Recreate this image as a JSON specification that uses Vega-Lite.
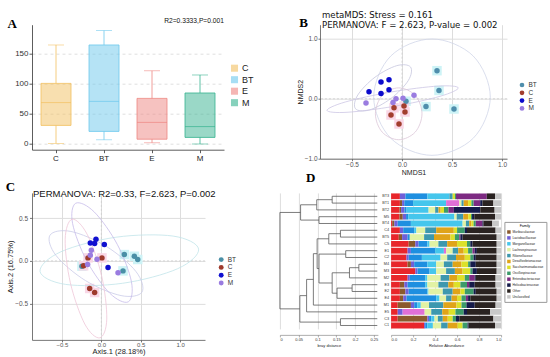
{
 "$schema": "https://vega.github.io/schema/vega-lite/v6.json",
 "autosize": {"type": "pad"},
 "padding": {"left": 5, "top": 10.7, "right": 2, "bottom": 2},
 "spacing": -4.8,
 "resolve": {"scale": {"color": "independent", "fill": "independent", "stroke": "independent"}, "legend": {"color": "independent", "fill": "independent", "stroke": "independent"}},
 "datasets": {
  "fam": [
   {"family": "Bacteroidaceae", "k": 0}, {"family": "Muribaculaceae", "k": 1}, {"family": "Lactobacillaceae", "k": 2},
   {"family": "Prevotellaceae", "k": 3}, {"family": "Morganellaceae", "k": 4}, {"family": "Streptococcaceae", "k": 5},
   {"family": "Lachnospiraceae", "k": 6}, {"family": "Rikenellaceae", "k": 7}, {"family": "Desulfovibrionaceae", "k": 8},
   {"family": "Saccharimonadaceae", "k": 9}, {"family": "Oscillospiraceae", "k": 10}, {"family": "Enterobacteriaceae", "k": 11},
   {"family": "Helicobacteraceae", "k": 12}, {"family": "Other", "k": 13}, {"family": "Unclassified", "k": 14}
  ],
  "bpts": [
   {"g": "BT", "x": 0.35, "y": 0.47}, {"g": "BT", "x": 0.37, "y": 0.14}, {"g": "BT", "x": 0.24, "y": -0.13}, {"g": "BT", "x": 0.52, "y": -0.17}, {"g": "BT", "x": 0.04, "y": -0.04},
   {"g": "E", "x": -0.13, "y": 0.32}, {"g": "E", "x": -0.21, "y": 0.28}, {"g": "E", "x": -0.13, "y": 0.15}, {"g": "E", "x": -0.21, "y": 0.09}, {"g": "E", "x": -0.33, "y": 0.12},
   {"g": "M", "x": -0.36, "y": -0.07}, {"g": "M", "x": -0.09, "y": -0.06}, {"g": "M", "x": -0.06, "y": 0.0}, {"g": "M", "x": 0.01, "y": 0.01}, {"g": "M", "x": 0.12, "y": 0.06},
   {"g": "C", "x": -0.08, "y": -0.15}, {"g": "C", "x": 0.02, "y": -0.12}, {"g": "C", "x": -0.11, "y": -0.27}, {"g": "C", "x": 0.03, "y": -0.22}, {"g": "C", "x": -0.03, "y": -0.42}
  ],
  "cpts": [
   {"g": "BT", "x": 0.292, "y": 0.074}, {"g": "BT", "x": 0.419, "y": 0.054}, {"g": "BT", "x": 0.462, "y": 0.016}, {"g": "BT", "x": 0.275, "y": -0.117}, {"g": "BT", "x": -0.246, "y": -0.062},
   {"g": "C", "x": -0.169, "y": 0.035}, {"g": "C", "x": 0.008, "y": 0.035}, {"g": "C", "x": -0.148, "y": -0.323}, {"g": "C", "x": -0.085, "y": -0.37}, {"g": "C", "x": -0.225, "y": -0.058},
   {"g": "E", "x": -0.068, "y": 0.253}, {"g": "E", "x": -0.14, "y": 0.21}, {"g": "E", "x": -0.085, "y": 0.202}, {"g": "E", "x": 0.038, "y": 0.191}, {"g": "E", "x": 0.085, "y": -0.078},
   {"g": "M", "x": -0.127, "y": 0.125}, {"g": "M", "x": -0.14, "y": 0.066}, {"g": "M", "x": -0.055, "y": 0.019}, {"g": "M", "x": -0.174, "y": -0.043}, {"g": "M", "x": 0.212, "y": -0.14}
  ]
 },
 "config": {
  "view": {"stroke": null},
  "font": "Liberation Sans",
  "axis": {"labelFont": "Liberation Sans", "titleFont": "Liberation Sans", "titleFontWeight": "normal", "labelColor": "#444", "titleColor": "#222", "domainColor": "#555", "tickColor": "#555", "domainWidth": 0.8, "tickWidth": 0.8},
  "legend": {"labelFont": "Liberation Sans", "titleFont": "Liberation Sans", "labelColor": "#333"},
  "title": {"font": "Liberation Sans", "fontWeight": "normal", "color": "#111", "subtitleFont": "Liberation Sans", "subtitleColor": "#111"}
 },
 "vconcat": [
  {
   "spacing": 42,
   "resolve": {"scale": {"color": "independent", "fill": "independent", "stroke": "independent"}, "legend": {"color": "independent", "fill": "independent", "stroke": "independent"}},
   "hconcat": [
    {
     "width": 192, "height": 125,
     "data": {"values": [
      {"g": "C", "lo": 1, "q1": 31, "med": 69, "q3": 101, "hi": 165},
      {"g": "BT", "lo": 7, "q1": 21, "med": 71, "q3": 165, "hi": 189},
      {"g": "E", "lo": 2, "q1": 8, "med": 36, "q3": 76, "hi": 122},
      {"g": "M", "lo": 0, "q1": 11, "med": 29, "q3": 85, "hi": 115}
     ]},
     "title": {"text": "R2=0.3333,P=0.001", "anchor": "end", "frame": "group", "fontSize": 6.7, "offset": -7.3},
     "encoding": {
      "x": {"field": "g", "type": "nominal", "sort": ["C", "BT", "E", "M"], "title": null,
            "scale": {"paddingInner": 0.375, "paddingOuter": 0.1875},
            "axis": {"labelAngle": 0, "labelFontSize": 8, "labelPadding": 1.5, "tickSize": 3, "domainColor": "#333", "tickColor": "#333", "labelColor": "#222"}},
      "color": {"field": "g", "type": "nominal", "scale": {"domain": ["C", "BT", "E", "M"], "range": ["#F2C060", "#6CC8EC", "#EE8682", "#36B28F"]},
                "legend": {"orient": "none", "legendX": 198, "legendY": 39, "title": null, "symbolType": "square", "symbolSize": 50, "symbolOpacity": 0.6,
                           "labelFontSize": 9, "rowPadding": 1.5, "labelOffset": 3, "padding": 0, "symbolStrokeWidth": 0, "labelColor": "#222"}}
     },
     "layer": [
      {"mark": {"type": "bar", "fillOpacity": 0.5},
       "encoding": {
        "y": {"field": "q1", "type": "quantitative", "title": "A",
              "scale": {"domain": [-9.5, 198.8], "nice": false, "zero": false},
              "axis": {"values": [0, 50, 100, 150], "grid": true, "gridDash": [3, 3], "gridColor": "#d2d2d2", "gridWidth": 0.7,
                       "labelFontSize": 8, "labelPadding": 1, "tickSize": 3, "domainColor": "#333", "tickColor": "#333", "labelColor": "#333",
                       "titleFont": "Liberation Serif", "titleFontSize": 13, "titleFontWeight": "bold", "titleAngle": 0, "titleAlign": "left",
                       "titleBaseline": "alphabetic", "titleX": -25, "titleY": 3, "titleColor": "#000"}},
        "y2": {"field": "q3"}
       }},
      {"mark": {"type": "rule", "strokeWidth": 0.8},
       "encoding": {"y": {"field": "lo", "type": "quantitative", "title": "A"}, "y2": {"field": "q1"}}},
      {"mark": {"type": "rule", "strokeWidth": 0.8},
       "encoding": {"y": {"field": "q3", "type": "quantitative", "title": "A"}, "y2": {"field": "hi"}}},
      {"mark": {"type": "tick", "size": 16, "thickness": 0.8},
       "encoding": {"y": {"field": "hi", "type": "quantitative", "title": "A"}}},
      {"mark": {"type": "tick", "size": 16, "thickness": 0.8},
       "encoding": {"y": {"field": "lo", "type": "quantitative", "title": "A"}}},
      {"mark": {"type": "bar", "filled": false, "strokeWidth": 0.8},
       "encoding": {"y": {"field": "q1", "type": "quantitative", "title": "A"}, "y2": {"field": "q3"}}},
      {"mark": {"type": "tick", "size": 30, "thickness": 1},
       "encoding": {"y": {"field": "med", "type": "quantitative", "title": "A"}}}
     ]
    },
    {
     "title": {"text": "B", "anchor": "start", "frame": "bounds", "font": "Liberation Serif", "fontSize": 13, "fontWeight": "bold", "color": "#000", "offset": 0, "dy": 19, "dx": 3},
     "hconcat": [
      {
       "width": 187, "height": 134,
       "title": {"text": "metaMDS: Stress = 0.161", "subtitle": "PERMANOVA: F = 2.623, P-value = 0.002", "anchor": "start", "frame": "group",
                 "font": "DejaVu Sans", "subtitleFont": "DejaVu Sans", "fontSize": 8.6, "subtitleFontSize": 8.6, "subtitlePadding": 1.4, "offset": -5.3, "dx": 2},
       "layer": [
        {"data": {"values": [{"v": 0}]},
         "mark": {"type": "rule", "strokeDash": [2, 2], "color": "#c9c9c9", "strokeWidth": 0.7},
         "encoding": {"x": {"field": "v", "type": "quantitative", "title": "NMDS1",
                            "scale": {"domain": [-0.82, 1.05], "nice": false, "zero": false},
                            "axis": {"values": [-0.5, 0, 0.5, 1], "format": ".1f", "labelFontSize": 6.5, "titleFontSize": 7, "tickSize": 2, "labelPadding": 0.5, "titlePadding": 0.5, "labelColor": "#555"}}}},
        {"data": {"values": [{"v": 0}]},
         "mark": {"type": "rule", "strokeDash": [2, 2], "color": "#c9c9c9", "strokeWidth": 0.7},
         "encoding": {"y": {"field": "v", "type": "quantitative", "title": "NMDS2",
                            "scale": {"domain": [-1.0, 1.238], "nice": false, "zero": false},
                            "axis": {"values": [-1, -0.5, 0, 0.5, 1], "format": ".1f", "labelFontSize": 6.5, "titleFontSize": 7, "tickSize": 2, "labelPadding": 1, "titlePadding": 1, "labelColor": "#555"}}}},
        {"data": {"name": "bpts"},
         "transform": [{"filter": {"field": "g", "oneOf": ["BT", "C"]}}],
         "mark": {"type": "point", "shape": "square", "filled": true, "size": 90, "opacity": 1},
         "encoding": {"x": {"field": "x", "type": "quantitative", "title": "NMDS1"}, "y": {"field": "y", "type": "quantitative", "title": "NMDS2"},
                      "fill": {"field": "g", "type": "nominal", "scale": {"domain": ["BT", "C"], "range": ["#CDF3F6", "#F9D7E6"]}, "legend": null}}},
        {"data": {"values": [
          {"g": "BT", "t": 0, "x": 0.883, "y": 0.028}, {"g": "BT", "t": 1, "x": 0.712, "y": 0.715}, {"g": "BT", "t": 2, "x": 0.3, "y": 1.0}, {"g": "BT", "t": 3, "x": -0.112, "y": 0.715},
          {"g": "BT", "t": 4, "x": -0.283, "y": 0.028}, {"g": "BT", "t": 5, "x": -0.112, "y": -0.659}, {"g": "BT", "t": 6, "x": 0.3, "y": -0.944}, {"g": "BT", "t": 7, "x": 0.712, "y": -0.659},
          {"g": "E", "t": 0, "x": 0.086, "y": 0.53}, {"g": "E", "t": 1, "x": 0.062, "y": 0.303}, {"g": "E", "t": 2, "x": -0.11, "y": 0.006}, {"g": "E", "t": 3, "x": -0.328, "y": -0.187},
          {"g": "E", "t": 4, "x": -0.466, "y": -0.163}, {"g": "E", "t": 5, "x": -0.442, "y": 0.064}, {"g": "E", "t": 6, "x": -0.27, "y": 0.361}, {"g": "E", "t": 7, "x": -0.052, "y": 0.554},
          {"g": "M", "t": 0, "x": 0.563, "y": 0.183}, {"g": "M", "t": 1, "x": 0.38, "y": 0.042}, {"g": "M", "t": 2, "x": -0.081, "y": -0.126}, {"g": "M", "t": 3, "x": -0.549, "y": -0.225},
          {"g": "M", "t": 4, "x": -0.75, "y": -0.194}, {"g": "M", "t": 5, "x": -0.567, "y": -0.053}, {"g": "M", "t": 6, "x": -0.106, "y": 0.115}, {"g": "M", "t": 7, "x": 0.362, "y": 0.213},
          {"g": "C", "t": 0, "x": 0.2, "y": -0.25}, {"g": "C", "t": 1, "x": 0.132, "y": 0.056}, {"g": "C", "t": 2, "x": -0.033, "y": 0.183}, {"g": "C", "t": 3, "x": -0.198, "y": 0.056},
          {"g": "C", "t": 4, "x": -0.266, "y": -0.25}, {"g": "C", "t": 5, "x": -0.198, "y": -0.556}, {"g": "C", "t": 6, "x": -0.033, "y": -0.683}, {"g": "C", "t": 7, "x": 0.132, "y": -0.556}
         ]},
         "mark": {"type": "line", "interpolate": "cardinal-closed", "strokeWidth": 0.8},
         "encoding": {"x": {"field": "x", "type": "quantitative", "title": "NMDS1"}, "y": {"field": "y", "type": "quantitative", "title": "NMDS2"},
                      "stroke": {"field": "g", "type": "nominal", "scale": {"domain": ["M", "E", "C", "BT"], "range": ["#cdc6e4", "#c6c7de", "#dcc6d8", "#d0d6e8"]}, "legend": null},
                      "order": {"field": "t", "type": "quantitative"}}},
        {"data": {"name": "bpts"},
         "mark": {"type": "circle", "size": 30, "opacity": 1},
         "encoding": {"x": {"field": "x", "type": "quantitative", "title": "NMDS1"}, "y": {"field": "y", "type": "quantitative", "title": "NMDS2"},
                      "color": {"field": "g", "type": "nominal", "scale": {"domain": ["BT", "C", "E", "M"], "range": ["#4F8EAC", "#A23E2E", "#0B0BCC", "#9A7CE0"]},
                                "legend": {"orient": "none", "legendX": 198.5, "legendY": 56.8, "title": null, "symbolType": "circle", "symbolSize": 22, "symbolOpacity": 1,
                                           "labelFontSize": 6.5, "rowPadding": 0.8, "labelOffset": 3, "padding": 0, "labelColor": "#333"}}}}
       ]
      }
     ]
    }
   ]
  },
  {
   "spacing": 41.9,
   "resolve": {"scale": {"color": "independent", "fill": "independent", "stroke": "independent"}, "legend": {"color": "independent", "fill": "independent", "stroke": "independent"}},
   "hconcat": [
    {
     "title": {"text": "C", "anchor": "start", "frame": "bounds", "font": "Liberation Serif", "fontSize": 13, "fontWeight": "bold", "color": "#000", "offset": 0, "dy": 5.7, "dx": -1},
     "hconcat": [
      {
       "width": 173, "height": 147,
       "title": {"text": "PERMANOVA: R2=0.33, F=2.623, P=0.002", "anchor": "start", "frame": "group", "fontSize": 9.5, "offset": -5.5, "dx": 1},
       "layer": [
        {"data": {"values": [{"v": 0}]},
         "mark": {"type": "rule", "strokeDash": [2, 2], "color": "#cccccc", "strokeWidth": 0.7},
         "encoding": {"x": {"field": "v", "type": "quantitative", "title": "Axis.1 (28.18%)",
                            "scale": {"domain": [-0.88, 1.316], "nice": false, "zero": false},
                            "axis": {"values": [-0.5, 0, 0.5, 1], "format": ".1f", "labelFontSize": 6, "titleFontSize": 7.5, "tickSize": 2, "labelPadding": 0, "titlePadding": 0, "labelColor": "#555"}}}},
        {"data": {"values": [{"v": 0}]},
         "mark": {"type": "rule", "strokeDash": [2, 2], "color": "#cccccc", "strokeWidth": 0.7},
         "encoding": {"y": {"field": "v", "type": "quantitative", "title": "Axis.2 (16.75%)",
                            "scale": {"domain": [-0.924, 0.795], "nice": false, "zero": false},
                            "axis": {"values": [-0.5, 0, 0.5], "format": ".1f", "labelFontSize": 6.5, "titleFontSize": 7.5, "tickSize": 2.5, "labelPadding": 2, "titlePadding": 0, "labelColor": "#555"}}}},
        {"data": {"name": "cpts"},
         "transform": [{"filter": {"field": "g", "oneOf": ["BT", "C"]}}],
         "mark": {"type": "point", "shape": "square", "filled": true, "size": 90, "opacity": 1},
         "encoding": {"x": {"field": "x", "type": "quantitative", "title": "Axis.1 (28.18%)"}, "y": {"field": "y", "type": "quantitative", "title": "Axis.2 (16.75%)"},
                      "fill": {"field": "g", "type": "nominal", "scale": {"domain": ["BT", "C"], "range": ["#CDF3F6", "#F9D7E6"]}, "legend": null}}},
        {"data": {"values": [
          {"g": "BT", "t": 0, "x": 1.235, "y": 0.138}, {"g": "BT", "t": 1, "x": 0.97, "y": -0.091}, {"g": "BT", "t": 2, "x": 0.27, "y": -0.262}, {"g": "BT", "t": 3, "x": -0.454, "y": -0.275},
          {"g": "BT", "t": 4, "x": -0.778, "y": -0.123}, {"g": "BT", "t": 5, "x": -0.512, "y": 0.107}, {"g": "BT", "t": 6, "x": 0.188, "y": 0.277}, {"g": "BT", "t": 7, "x": 0.911, "y": 0.29},
          {"g": "E", "t": 0, "x": 0.516, "y": -0.365}, {"g": "E", "t": 1, "x": 0.25, "y": -0.406}, {"g": "E", "t": 2, "x": -0.202, "y": -0.23}, {"g": "E", "t": 3, "x": -0.575, "y": 0.063},
          {"g": "E", "t": 4, "x": -0.652, "y": 0.3}, {"g": "E", "t": 5, "x": -0.386, "y": 0.344}, {"g": "E", "t": 6, "x": 0.066, "y": 0.168}, {"g": "E", "t": 7, "x": 0.44, "y": -0.125},
          {"g": "M", "t": 0, "x": 0.342, "y": -0.479}, {"g": "M", "t": 1, "x": 0.107, "y": -0.378}, {"g": "M", "t": 2, "x": -0.186, "y": 0.002}, {"g": "M", "t": 3, "x": -0.365, "y": 0.438},
          {"g": "M", "t": 4, "x": -0.325, "y": 0.674}, {"g": "M", "t": 5, "x": -0.09, "y": 0.572}, {"g": "M", "t": 6, "x": 0.203, "y": 0.192}, {"g": "M", "t": 7, "x": 0.382, "y": -0.244},
          {"g": "C", "t": 0, "x": -0.019, "y": -0.9}, {"g": "C", "t": 1, "x": -0.21, "y": -0.739}, {"g": "C", "t": 2, "x": -0.393, "y": -0.256}, {"g": "C", "t": 3, "x": -0.459, "y": 0.252},
          {"g": "C", "t": 4, "x": -0.371, "y": 0.487}, {"g": "C", "t": 5, "x": -0.18, "y": 0.311}, {"g": "C", "t": 6, "x": 0.003, "y": -0.172}, {"g": "C", "t": 7, "x": 0.069, "y": -0.68}
         ]},
         "mark": {"type": "line", "interpolate": "cardinal-closed", "strokeWidth": 0.8},
         "encoding": {"x": {"field": "x", "type": "quantitative", "title": "Axis.1 (28.18%)"}, "y": {"field": "y", "type": "quantitative", "title": "Axis.2 (16.75%)"},
                      "stroke": {"field": "g", "type": "nominal", "scale": {"domain": ["M", "E", "C", "BT"], "range": ["#c6bbea", "#cacce8", "#efc6d8", "#c2e4ea"]}, "legend": null},
                      "order": {"field": "t", "type": "quantitative"}}},
        {"data": {"name": "cpts"},
         "mark": {"type": "circle", "size": 30, "opacity": 1},
         "encoding": {"x": {"field": "x", "type": "quantitative", "title": "Axis.1 (28.18%)"}, "y": {"field": "y", "type": "quantitative", "title": "Axis.2 (16.75%)"},
                      "color": {"field": "g", "type": "nominal", "scale": {"domain": ["BT", "C", "E", "M"], "range": ["#4A8FA6", "#9E3A2C", "#1010D0", "#9A7BE0"]},
                                "legend": {"orient": "none", "legendX": 185.7, "legendY": 63.2, "title": null, "symbolType": "circle", "symbolSize": 24, "symbolOpacity": 1,
                                           "labelFontSize": 6.5, "rowPadding": 0.8, "labelOffset": 3, "padding": 0, "labelColor": "#333"}}}}
       ]
      }
     ]
    },
    {
     "spacing": 3.2,
     "resolve": {"scale": {"color": "independent"}, "legend": {"color": "independent"}},
     "hconcat": [
      {
       "width": 98, "height": 136,
       "title": {"text": "D", "anchor": "start", "frame": "group", "font": "Liberation Serif", "fontSize": 13, "fontWeight": "bold", "color": "#000", "offset": 8.3, "dx": 26},
       "data": {"values": [
        {"x1": 0.139, "x2": 0.139, "y1": 0, "y2": 1}, {"x1": 0.139, "x2": 0.259, "y1": 0, "y2": 0}, {"x1": 0.139, "x2": 0.259, "y1": 1, "y2": 1},
        {"x1": 0.098, "x2": 0.098, "y1": 0.5, "y2": 2}, {"x1": 0.098, "x2": 0.139, "y1": 0.5, "y2": 0.5}, {"x1": 0.098, "x2": 0.259, "y1": 2, "y2": 2},
        {"x1": 0.104, "x2": 0.104, "y1": 3, "y2": 4}, {"x1": 0.104, "x2": 0.259, "y1": 3, "y2": 3}, {"x1": 0.104, "x2": 0.259, "y1": 4, "y2": 4},
        {"x1": 0.055, "x2": 0.055, "y1": 1.25, "y2": 3.5}, {"x1": 0.055, "x2": 0.098, "y1": 1.25, "y2": 1.25}, {"x1": 0.055, "x2": 0.104, "y1": 3.5, "y2": 3.5},
        {"x1": 0.161, "x2": 0.161, "y1": 5, "y2": 6}, {"x1": 0.161, "x2": 0.259, "y1": 5, "y2": 5}, {"x1": 0.161, "x2": 0.259, "y1": 6, "y2": 6},
        {"x1": 0.13, "x2": 0.13, "y1": 5.5, "y2": 7}, {"x1": 0.13, "x2": 0.161, "y1": 5.5, "y2": 5.5}, {"x1": 0.13, "x2": 0.259, "y1": 7, "y2": 7},
        {"x1": 0.175, "x2": 0.175, "y1": 8, "y2": 9}, {"x1": 0.175, "x2": 0.259, "y1": 8, "y2": 8}, {"x1": 0.175, "x2": 0.259, "y1": 9, "y2": 9},
        {"x1": 0.21, "x2": 0.21, "y1": 10, "y2": 11}, {"x1": 0.21, "x2": 0.259, "y1": 10, "y2": 10}, {"x1": 0.21, "x2": 0.259, "y1": 11, "y2": 11},
        {"x1": 0.185, "x2": 0.185, "y1": 10.5, "y2": 12}, {"x1": 0.185, "x2": 0.21, "y1": 10.5, "y2": 10.5}, {"x1": 0.185, "x2": 0.259, "y1": 12, "y2": 12},
        {"x1": 0.192, "x2": 0.192, "y1": 13, "y2": 14}, {"x1": 0.192, "x2": 0.259, "y1": 13, "y2": 13}, {"x1": 0.192, "x2": 0.259, "y1": 14, "y2": 14},
        {"x1": 0.152, "x2": 0.152, "y1": 13.5, "y2": 15}, {"x1": 0.152, "x2": 0.192, "y1": 13.5, "y2": 13.5}, {"x1": 0.152, "x2": 0.259, "y1": 15, "y2": 15},
        {"x1": 0.139, "x2": 0.139, "y1": 11.25, "y2": 14.25}, {"x1": 0.139, "x2": 0.185, "y1": 11.25, "y2": 11.25}, {"x1": 0.139, "x2": 0.152, "y1": 14.25, "y2": 14.25},
        {"x1": 0.104, "x2": 0.104, "y1": 8.5, "y2": 12.75}, {"x1": 0.104, "x2": 0.175, "y1": 8.5, "y2": 8.5}, {"x1": 0.104, "x2": 0.139, "y1": 12.75, "y2": 12.75},
        {"x1": 0.099, "x2": 0.099, "y1": 6.25, "y2": 10.625}, {"x1": 0.099, "x2": 0.13, "y1": 6.25, "y2": 6.25}, {"x1": 0.099, "x2": 0.104, "y1": 10.625, "y2": 10.625},
        {"x1": 0.089, "x2": 0.089, "y1": 8.4375, "y2": 16}, {"x1": 0.089, "x2": 0.099, "y1": 8.4375, "y2": 8.4375}, {"x1": 0.089, "x2": 0.259, "y1": 16, "y2": 16},
        {"x1": 0.071, "x2": 0.071, "y1": 12.22, "y2": 17}, {"x1": 0.071, "x2": 0.089, "y1": 12.22, "y2": 12.22}, {"x1": 0.071, "x2": 0.259, "y1": 17, "y2": 17},
        {"x1": 0.161, "x2": 0.161, "y1": 18, "y2": 19}, {"x1": 0.161, "x2": 0.259, "y1": 18, "y2": 18}, {"x1": 0.161, "x2": 0.259, "y1": 19, "y2": 19},
        {"x1": 0.053, "x2": 0.053, "y1": 14.61, "y2": 18.5}, {"x1": 0.053, "x2": 0.071, "y1": 14.61, "y2": 14.61}, {"x1": 0.053, "x2": 0.161, "y1": 18.5, "y2": 18.5},
        {"x1": 0, "x2": 0, "y1": 2.375, "y2": 16.555}, {"x1": 0, "x2": 0.055, "y1": 2.375, "y2": 2.375}, {"x1": 0, "x2": 0.053, "y1": 16.555, "y2": 16.555}
       ]},
       "mark": {"type": "rule", "color": "#5a5a5a", "strokeWidth": 0.8},
       "encoding": {
        "x": {"field": "x1", "type": "quantitative", "title": "bray distance",
              "scale": {"domain": [0, 0.2606], "nice": false, "zero": false},
              "axis": {"values": [0, 0.05, 0.1, 0.15, 0.2, 0.25], "format": "~g", "labelFontSize": 4, "titleFontSize": 4, "tickSize": 2, "offset": 6,
                       "labelPadding": 1, "titlePadding": 2, "domainColor": "#777", "tickColor": "#777", "labelColor": "#333", "domainWidth": 0.6, "tickWidth": 0.6}},
        "x2": {"field": "x2"},
        "y": {"field": "y1", "type": "quantitative", "scale": {"domain": [-0.5, 19.5], "reverse": true, "nice": false, "zero": false}, "axis": null},
        "y2": {"field": "y2"}
       }
      },
      {
       "width": 110, "height": 136,
       "title": {"text": " ", "anchor": "start", "frame": "group", "font": "Liberation Serif", "fontSize": 13, "fontWeight": "bold", "offset": 8.3},
       "data": {"values": [
        {"s": "BT3", "Bacteroidaceae": 0.08, "Lactobacillaceae": 0.05, "Prevotellaceae": 0.2, "Morganellaceae": 0.2, "Rikenellaceae": 0.03, "Saccharimonadaceae": 0.02, "Oscillospiraceae": 0.01, "Enterobacteriaceae": 0.28, "Other": 0.075, "Unclassified": 0.055},
        {"s": "BT1", "Bacteroidaceae": 0.08, "Muribaculaceae": 0.02, "Lactobacillaceae": 0.02, "Prevotellaceae": 0.08, "Morganellaceae": 0.3, "Streptococcaceae": 0.12, "Lachnospiraceae": 0.02, "Rikenellaceae": 0.02, "Desulfovibrionaceae": 0.04, "Saccharimonadaceae": 0.03, "Oscillospiraceae": 0.02, "Enterobacteriaceae": 0.06, "Helicobacteraceae": 0.02, "Other": 0.1, "Unclassified": 0.07},
        {"s": "BT2", "Bacteroidaceae": 0.076, "Muribaculaceae": 0.015, "Lactobacillaceae": 0.03, "Prevotellaceae": 0.02, "Morganellaceae": 0.2, "Lachnospiraceae": 0.06, "Rikenellaceae": 0.03, "Desulfovibrionaceae": 0.02, "Saccharimonadaceae": 0.03, "Oscillospiraceae": 0.04, "Enterobacteriaceae": 0.05, "Helicobacteraceae": 0.24, "Other": 0.13, "Unclassified": 0.059},
        {"s": "M5", "Bacteroidaceae": 0.076, "Muribaculaceae": 0.03, "Lactobacillaceae": 0.03, "Prevotellaceae": 0.02, "Morganellaceae": 0.42, "Lachnospiraceae": 0.02, "Rikenellaceae": 0.06, "Desulfovibrionaceae": 0.045, "Saccharimonadaceae": 0.025, "Oscillospiraceae": 0.01, "Helicobacteraceae": 0.02, "Other": 0.19, "Unclassified": 0.054},
        {"s": "BT4", "Bacteroidaceae": 0.01, "Muribaculaceae": 0.02, "Lactobacillaceae": 0.03, "Prevotellaceae": 0.12, "Morganellaceae": 0.47, "Lachnospiraceae": 0.03, "Rikenellaceae": 0.03, "Desulfovibrionaceae": 0.02, "Saccharimonadaceae": 0.02, "Oscillospiraceae": 0.02, "Enterobacteriaceae": 0.06, "Helicobacteraceae": 0.01, "Other": 0.08, "Unclassified": 0.06},
        {"s": "C4", "Bacteroidaceae": 0.08, "Lactobacillaceae": 0.03, "Prevotellaceae": 0.1, "Morganellaceae": 0.02, "Lachnospiraceae": 0.08, "Rikenellaceae": 0.1, "Desulfovibrionaceae": 0.16, "Saccharimonadaceae": 0.03, "Oscillospiraceae": 0.07, "Helicobacteraceae": 0.02, "Other": 0.26, "Unclassified": 0.05},
        {"s": "BT5", "Bacteroidaceae": 0.07, "Muribaculaceae": 0.03, "Lactobacillaceae": 0.05, "Prevotellaceae": 0.02, "Lachnospiraceae": 0.13, "Rikenellaceae": 0.09, "Desulfovibrionaceae": 0.15, "Saccharimonadaceae": 0.04, "Oscillospiraceae": 0.04, "Enterobacteriaceae": 0.01, "Helicobacteraceae": 0.02, "Other": 0.31, "Unclassified": 0.04},
        {"s": "C5", "Bacteroidaceae": 0.16, "Muribaculaceae": 0.06, "Lactobacillaceae": 0.03, "Prevotellaceae": 0.08, "Morganellaceae": 0.02, "Lachnospiraceae": 0.08, "Rikenellaceae": 0.08, "Desulfovibrionaceae": 0.09, "Saccharimonadaceae": 0.09, "Oscillospiraceae": 0.03, "Helicobacteraceae": 0.02, "Other": 0.22, "Unclassified": 0.04},
        {"s": "E1", "Bacteroidaceae": 0.15, "Lactobacillaceae": 0.03, "Prevotellaceae": 0.22, "Morganellaceae": 0.08, "Streptococcaceae": 0.02, "Lachnospiraceae": 0.06, "Rikenellaceae": 0.05, "Desulfovibrionaceae": 0.05, "Saccharimonadaceae": 0.04, "Oscillospiraceae": 0.04, "Enterobacteriaceae": 0.02, "Helicobacteraceae": 0.02, "Other": 0.18, "Unclassified": 0.04},
        {"s": "C2", "Bacteroidaceae": 0.14, "Lactobacillaceae": 0.02, "Prevotellaceae": 0.12, "Morganellaceae": 0.17, "Lachnospiraceae": 0.06, "Rikenellaceae": 0.08, "Desulfovibrionaceae": 0.08, "Saccharimonadaceae": 0.05, "Oscillospiraceae": 0.03, "Helicobacteraceae": 0.02, "Other": 0.19, "Unclassified": 0.04},
        {"s": "M4", "Bacteroidaceae": 0.15, "Muribaculaceae": 0.03, "Lactobacillaceae": 0.03, "Prevotellaceae": 0.12, "Morganellaceae": 0.08, "Lachnospiraceae": 0.07, "Rikenellaceae": 0.08, "Desulfovibrionaceae": 0.08, "Saccharimonadaceae": 0.06, "Oscillospiraceae": 0.02, "Helicobacteraceae": 0.05, "Other": 0.19, "Unclassified": 0.04},
        {"s": "M3", "Bacteroidaceae": 0.22, "Lactobacillaceae": 0.02, "Prevotellaceae": 0.11, "Morganellaceae": 0.06, "Lachnospiraceae": 0.09, "Rikenellaceae": 0.08, "Desulfovibrionaceae": 0.07, "Saccharimonadaceae": 0.07, "Oscillospiraceae": 0.02, "Helicobacteraceae": 0.04, "Other": 0.18, "Unclassified": 0.04},
        {"s": "M2", "Bacteroidaceae": 0.15, "Lactobacillaceae": 0.02, "Prevotellaceae": 0.14, "Morganellaceae": 0.02, "Lachnospiraceae": 0.12, "Rikenellaceae": 0.08, "Desulfovibrionaceae": 0.07, "Saccharimonadaceae": 0.07, "Oscillospiraceae": 0.04, "Enterobacteriaceae": 0.05, "Helicobacteraceae": 0.01, "Other": 0.18, "Unclassified": 0.05},
        {"s": "E3", "Bacteroidaceae": 0.08, "Muribaculaceae": 0.04, "Lactobacillaceae": 0.03, "Prevotellaceae": 0.16, "Morganellaceae": 0.02, "Lachnospiraceae": 0.1, "Rikenellaceae": 0.09, "Desulfovibrionaceae": 0.05, "Saccharimonadaceae": 0.06, "Oscillospiraceae": 0.06, "Enterobacteriaceae": 0.02, "Helicobacteraceae": 0.05, "Other": 0.19, "Unclassified": 0.05},
        {"s": "E2", "Bacteroidaceae": 0.08, "Muribaculaceae": 0.05, "Lactobacillaceae": 0.03, "Prevotellaceae": 0.17, "Morganellaceae": 0.01, "Lachnospiraceae": 0.13, "Rikenellaceae": 0.09, "Desulfovibrionaceae": 0.07, "Saccharimonadaceae": 0.04, "Oscillospiraceae": 0.08, "Helicobacteraceae": 0.02, "Other": 0.19, "Unclassified": 0.04},
        {"s": "E4", "Bacteroidaceae": 0.08, "Muribaculaceae": 0.03, "Lactobacillaceae": 0.03, "Prevotellaceae": 0.27, "Morganellaceae": 0.03, "Lachnospiraceae": 0.06, "Rikenellaceae": 0.05, "Desulfovibrionaceae": 0.05, "Saccharimonadaceae": 0.04, "Oscillospiraceae": 0.04, "Enterobacteriaceae": 0.02, "Helicobacteraceae": 0.02, "Other": 0.24, "Unclassified": 0.04},
        {"s": "M1", "Bacteroidaceae": 0.06, "Muribaculaceae": 0.12, "Lactobacillaceae": 0.03, "Prevotellaceae": 0.03, "Morganellaceae": 0.03, "Lachnospiraceae": 0.075, "Rikenellaceae": 0.13, "Desulfovibrionaceae": 0.12, "Saccharimonadaceae": 0.045, "Oscillospiraceae": 0.045, "Helicobacteraceae": 0.075, "Other": 0.19, "Unclassified": 0.05},
        {"s": "E5", "Bacteroidaceae": 0.06, "Lactobacillaceae": 0.045, "Streptococcaceae": 0.2, "Lachnospiraceae": 0.06, "Rikenellaceae": 0.1, "Desulfovibrionaceae": 0.06, "Saccharimonadaceae": 0.06, "Oscillospiraceae": 0.075, "Helicobacteraceae": 0.03, "Other": 0.21, "Unclassified": 0.1},
        {"s": "C3", "Bacteroidaceae": 0.06, "Muribaculaceae": 0.27, "Lactobacillaceae": 0.015, "Prevotellaceae": 0.02, "Morganellaceae": 0.03, "Lachnospiraceae": 0.03, "Rikenellaceae": 0.045, "Desulfovibrionaceae": 0.045, "Saccharimonadaceae": 0.045, "Oscillospiraceae": 0.03, "Helicobacteraceae": 0.03, "Other": 0.31, "Unclassified": 0.07},
        {"s": "C1", "Bacteroidaceae": 0.3, "Lactobacillaceae": 0.01, "Prevotellaceae": 0.02, "Morganellaceae": 0.05, "Lachnospiraceae": 0.075, "Rikenellaceae": 0.06, "Desulfovibrionaceae": 0.09, "Saccharimonadaceae": 0.045, "Oscillospiraceae": 0.045, "Helicobacteraceae": 0.01, "Other": 0.24, "Unclassified": 0.055}
       ]},
       "transform": [
        {"fold": ["Bacteroidaceae", "Muribaculaceae", "Lactobacillaceae", "Prevotellaceae", "Morganellaceae", "Streptococcaceae", "Lachnospiraceae", "Rikenellaceae", "Desulfovibrionaceae", "Saccharimonadaceae", "Oscillospiraceae", "Enterobacteriaceae", "Helicobacteraceae", "Other", "Unclassified"], "as": ["family", "value"]},
        {"filter": "datum.value > 0"},
        {"lookup": "family", "from": {"data": {"name": "fam"}, "key": "family", "fields": ["k"]}}
       ],
       "mark": {"type": "bar"},
       "encoding": {
        "y": {"field": "s", "type": "nominal", "sort": ["BT3", "BT1", "BT2", "M5", "BT4", "C4", "BT5", "C5", "E1", "C2", "M4", "M3", "M2", "E3", "E2", "E4", "M1", "E5", "C3", "C1"],
              "scale": {"paddingInner": 0.15, "paddingOuter": 0.075},
              "axis": {"title": null, "ticks": false, "domain": false, "labelFontSize": 3.8, "labelPadding": 2.5, "labelColor": "#333"}},
        "x": {"field": "value", "type": "quantitative", "stack": "zero", "title": "Relative Abundance",
              "scale": {"domain": [0, 1], "nice": false},
              "axis": {"values": [0, 0.2, 0.4, 0.6, 0.8, 1], "format": ".1f", "labelFontSize": 4, "titleFontSize": 4, "tickSize": 2, "offset": 6,
                       "labelPadding": 1, "titlePadding": 2, "domainColor": "#777", "tickColor": "#777", "labelColor": "#333", "domainWidth": 0.6, "tickWidth": 0.6}},
        "color": {"field": "family", "type": "nominal",
                  "scale": {"domain": ["Bacteroidaceae", "Muribaculaceae", "Lactobacillaceae", "Prevotellaceae", "Morganellaceae", "Streptococcaceae", "Lachnospiraceae", "Rikenellaceae", "Desulfovibrionaceae", "Saccharimonadaceae", "Oscillospiraceae", "Enterobacteriaceae", "Helicobacteraceae", "Other", "Unclassified"],
                            "range": ["#E8262B", "#8A5A2E", "#6F5FD8", "#1E8FE0", "#45C6EC", "#E070D6", "#E2F2A4", "#3D98AE", "#E0A419", "#DCE12A", "#3C9B6A", "#7D2A82", "#141A4A", "#2A2321", "#C8C8C8"]},
                  "legend": {"orient": "none", "legendX": 113.3, "legendY": 29, "title": "Family", "titleFontSize": 3.6, "titleFontWeight": "normal", "titleAnchor": "middle", "titlePadding": 2,
                             "labelFontSize": 3.2, "symbolType": "square", "symbolSize": 12, "rowPadding": 1.9, "labelOffset": 1.5, "padding": 2.5,
                             "strokeColor": "#9a9a9a", "fillColor": "#ffffff", "symbolStrokeWidth": 0, "labelColor": "#222",
                             "values": ["Muribaculaceae", "Lactobacillaceae", "Morganellaceae", "Lachnospiraceae", "Rikenellaceae", "Desulfovibrionaceae", "Saccharimonadaceae", "Oscillospiraceae", "Enterobacteriaceae", "Helicobacteraceae", "Other", "Unclassified"]}},
        "order": {"field": "k", "type": "quantitative"}
       }
      }
     ]
    }
   ]
  }
 ]
}
